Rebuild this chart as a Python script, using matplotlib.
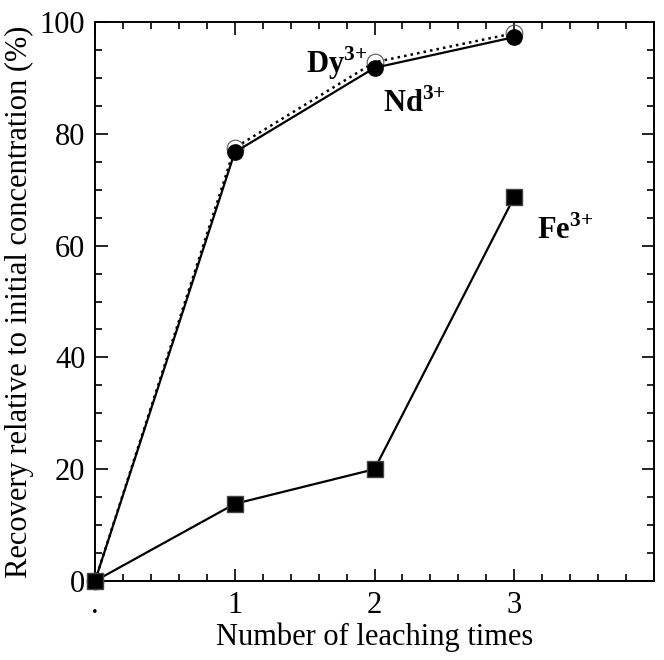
import numpy as np
import matplotlib.pyplot as plt
from matplotlib.ticker import MultipleLocator

plt.rcParams['font.family'] = ['Liberation Serif', 'DejaVu Serif']
plt.rcParams['mathtext.fontset'] = 'custom'
plt.rcParams['mathtext.rm'] = 'Liberation Serif'
plt.rcParams['mathtext.bf'] = 'Liberation Serif:bold'

times = [0, 1, 2, 3]
tick_labels = ['.', '1', '2', '3']
nd = [0, 76.7, 91.8, 97.3]
dy = [0, 77.5, 92.8, 98.0]
fe = [0, 13.8, 20.0, 68.7]

fig = plt.figure(figsize=(6.64, 6.6), dpi=100)
ax = fig.add_axes([95/664, 1 - 581/660, 559/664, 559/660])

ax.plot(times, dy, ls=':', lw=1.8, color='black', marker='o', ms=12,
        mfc='none', mec='#555555', mew=0.8, clip_on=False, zorder=3)
ax.plot(times, nd, ls='-', lw=1.6, color='black', marker='o', ms=11,
        mfc='black', mec='black', clip_on=False, zorder=4)
ax.plot(times, fe, ls='-', lw=1.6, color='black', marker='s', ms=11,
        mfc='black', mec='#444444', clip_on=False, zorder=4)

ax.text(1.51, 92.6, r'$\mathbf{Dy}^{\mathbf{3{+}}}$', fontsize=22, ha='left', va='center')
ax.text(2.06, 85.4, r'$\mathbf{Nd}^{\mathbf{3{+}}}$', fontsize=22, ha='left', va='center')
ax.text(3.16, 62.6, r'$\mathbf{Fe}^{\mathbf{3{+}}}$', fontsize=22, ha='left', va='center')

ax.set_xlim(0, 4)
ax.set_ylim(0, 100)
ax.set_xticks(times)
ax.set_xticklabels(tick_labels)
ax.set_yticks([0, 20, 40, 60, 80, 100])
ax.xaxis.set_minor_locator(MultipleLocator(0.2))
ax.yaxis.set_minor_locator(MultipleLocator(5))
ax.tick_params(which='both', direction='in', top=True, right=True, width=1.2)
ax.tick_params(which='major', length=9, labelsize=22, pad=7)
ax.tick_params(which='minor', length=5)
for s in ax.spines.values():
    s.set_linewidth(1.4)

ax.set_xlabel('Number of leaching times', fontsize=22, labelpad=2)
ax.set_ylabel('Recovery relative to initial concentration (%)', fontsize=22, labelpad=4)

fig.savefig('out.png', dpi=100)
